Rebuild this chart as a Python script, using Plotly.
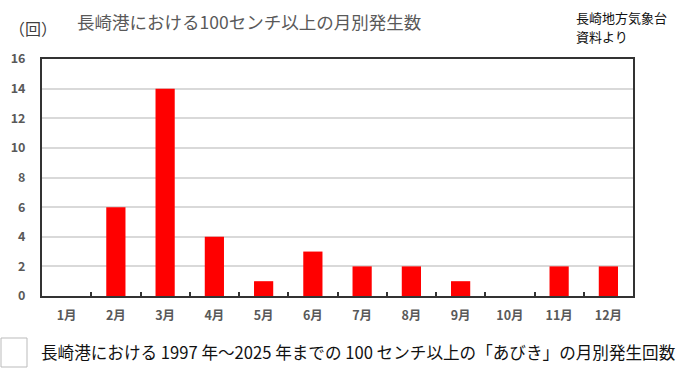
import plotly.graph_objects as go

months = ["1月", "2月", "3月", "4月", "5月", "6月", "7月", "8月", "9月", "10月", "11月", "12月"]
counts = [0, 6, 14, 4, 1, 3, 2, 2, 1, 0, 2, 2]
y_ticks = [0, 2, 4, 6, 8, 10, 12, 14, 16]

W, H = 680, 382
L, R, T, B = 42, 47, 59, 86
PW, PH = W - L - R, H - T - B

def px(x):
    return (x - L) / PW

def py(y):
    return (H - B - y) / PH

FONT = "Noto Sans CJK JP"

fig = go.Figure()
fig.add_trace(go.Bar(x=months, y=counts, marker=dict(color="#ff0000", line=dict(width=0)), width=0.39))

fig.update_layout(
    width=W, height=H,
    margin=dict(l=L, r=R, t=T, b=B),
    paper_bgcolor="white", plot_bgcolor="white",
    showlegend=False,
    font=dict(family=FONT),
    xaxis=dict(
        type="category", showgrid=False,
        showline=True, linecolor="#333333", linewidth=2, mirror=True,
        ticks="inside", tickson="boundaries", ticklen=4, tickwidth=1.5, tickcolor="#333333",
        tickfont=dict(family=FONT, size=12.5, color="#595959", weight="bold"),
        ticklabelstandoff=7,
    ),
    yaxis=dict(
        range=[0, 16], tickvals=y_ticks,
        showgrid=True, gridcolor="#d9d9d9", gridwidth=1.5,
        showline=True, linecolor="#333333", linewidth=2, mirror=True,
        ticks="", zeroline=False,
        tickfont=dict(family=FONT, size=12.5, color="#595959", weight="bold"),
        ticklabelstandoff=12,
    ),
    annotations=[
        dict(text="長崎港における100センチ以上の月別発生数", x=px(249), y=py(22), xref="paper", yref="paper",
             xanchor="center", yanchor="middle", showarrow=False,
             font=dict(family=FONT, size=17.5, color="#595959")),
        dict(text="（回）", x=px(7), y=py(28), xref="paper", yref="paper",
             xanchor="left", yanchor="middle", showarrow=False,
             font=dict(family=FONT, size=16, color="#404040")),
        dict(text="長崎地方気象台", x=px(574), y=py(18), xref="paper", yref="paper",
             xanchor="left", yanchor="middle", showarrow=False,
             font=dict(family=FONT, size=13, color="#111111")),
        dict(text="資料より", x=px(574), y=py(36), xref="paper", yref="paper",
             xanchor="left", yanchor="middle", showarrow=False,
             font=dict(family=FONT, size=13, color="#111111")),
        dict(text="長崎港における 1997 年～2025 年までの 100 センチ以上の「あびき」の月別発生回数",
             x=px(39), y=py(352), xref="paper", yref="paper",
             xanchor="left", yanchor="middle", showarrow=False,
             font=dict(family=FONT, size=16.6, color="#111111")),
    ],
    shapes=[
        dict(type="rect", xref="paper", yref="paper", x0=px(1), x1=px(27), y0=py(338), y1=py(367),
             line=dict(color="#bbbbbb", width=1), fillcolor="white"),
    ],
)

fig.write_html("out.html", config={"displayModeBar": False},
               post_script="document.body.style.margin='0';document.body.style.padding='0';")
